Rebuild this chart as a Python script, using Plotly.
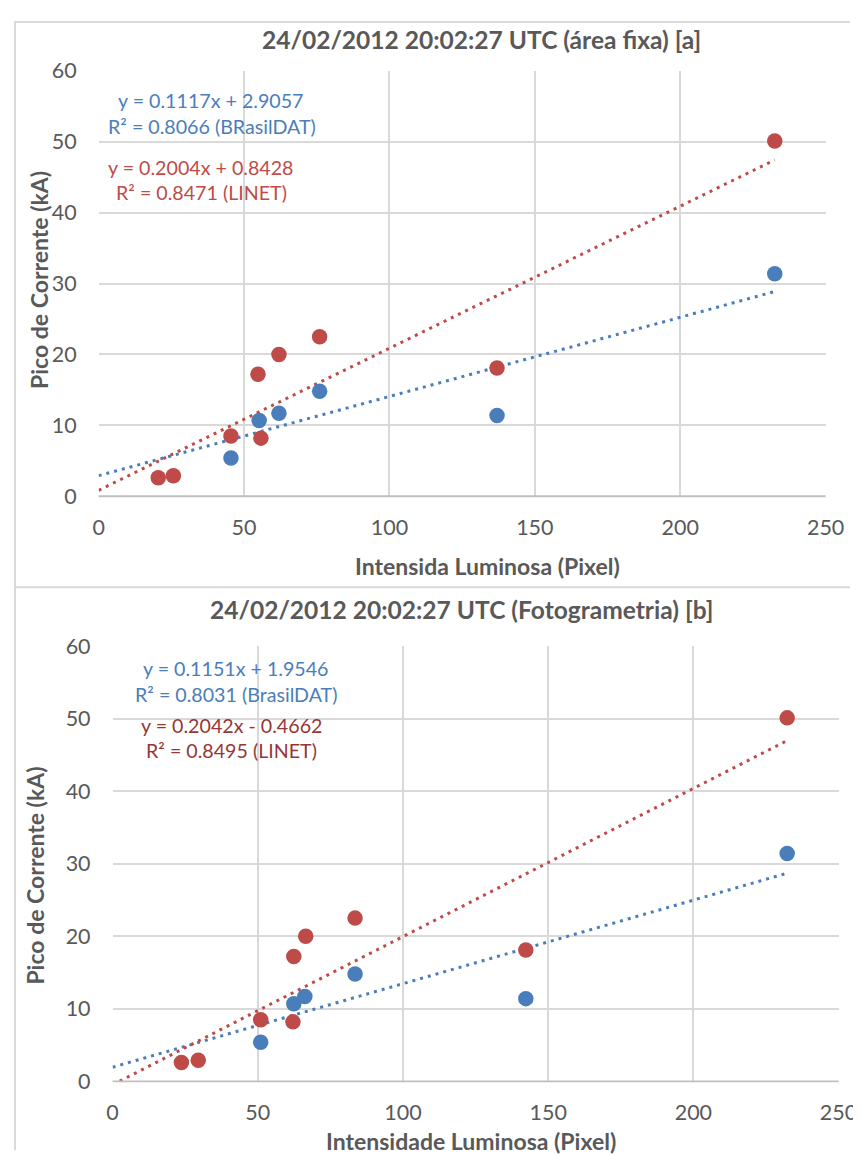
import plotly.graph_objects as go

W, H = 861, 1155

# ---------------- data ----------------
# Panel [a] - área fixa
a_x_brasildat = [45.5, 55.2, 62.0, 76.0, 137.0, 232.5]
a_y_brasildat = [5.4, 10.7, 11.7, 14.8, 11.4, 31.4]
a_x_linet = [20.5, 25.7, 45.5, 54.8, 55.8, 62.0, 76.0, 137.0, 232.5]
a_y_linet = [2.6, 2.9, 8.5, 17.2, 8.2, 20.0, 22.5, 18.1, 50.1]
a_fit_brasildat = (0.1117, 2.9057)
a_fit_linet = (0.2004, 0.8428)

# Panel [b] - fotogrametria
b_x_brasildat = [51.0, 62.4, 66.2, 83.5, 142.3, 232.3]
b_y_brasildat = [5.4, 10.7, 11.7, 14.8, 11.4, 31.4]
b_x_linet = [23.7, 29.5, 51.0, 62.4, 62.1, 66.5, 83.5, 142.3, 232.3]
b_y_linet = [2.6, 2.9, 8.5, 17.2, 8.2, 20.0, 22.5, 18.1, 50.1]
b_fit_brasildat = (0.1151, 1.9546)
b_fit_linet = (0.2042, -0.4662)

x_ticks = [0, 50, 100, 150, 200, 250]
y_ticks = [0, 10, 20, 30, 40, 50, 60]

title_a = "24/02/2012 20:02:27 UTC (área fixa) [a]"
title_b = "24/02/2012 20:02:27 UTC (Fotogrametria) [b]"
xtitle_a = "Intensida Luminosa (Pixel)"
xtitle_b = "Intensidade Luminosa (Pixel)"
ytitle = "Pico de Corrente (kA)"
eq_a = ["y = 0.1117x + 2.9057", "R² = 0.8066 (BRasilDAT)",
        "y = 0.2004x + 0.8428", "R² = 0.8471 (LINET)"]
eq_b = ["y = 0.1151x + 1.9546", "R² = 0.8031 (BrasilDAT)",
        "y = 0.2042x - 0.4662", "R² = 0.8495 (LINET)"]

# ---------------- style ----------------
BLUE = "#4A7EBB"
RED = "#BE4B48"
DARKRED = "#953735"
GRID = "#D9D9D9"
TXT = "#595959"
FONT = "Lato"

# the photographed page places the figure slightly offset / scaled;
# positions below are given in reference-image pixels and converted.
OX, SX, OY, SY = 12.0, 0.975, 21.0, 0.979
K = 1 / ((SX + SY) / 2)


def px(x):
    return min(max((x - OX) / SX / W, 0.0), 1.0)


def py(y):
    return min(max(1 - (y - OY) / SY / H, 0.0), 1.0)


fig = go.Figure()


def add_panel(xs_b, ys_b, xs_l, ys_l, fit_b, fit_l, xa, ya):
    xref = "x" if xa == 1 else "x%d" % xa
    yref = "y" if ya == 1 else "y%d" % ya
    for (xs, ys, fit, col) in [(xs_b, ys_b, fit_b, BLUE), (xs_l, ys_l, fit_l, RED)]:
        xmax = max(xs)
        fx = [0, xmax]
        fy = [fit[0] * v + fit[1] for v in fx]
        fig.add_trace(go.Scatter(x=fx, y=fy, mode="lines", xaxis=xref, yaxis=yref,
                                 line=dict(color=col, width=3, dash="3px,5px"),
                                 showlegend=False, hoverinfo="skip"))
    for (xs, ys, col) in [(xs_b, ys_b, BLUE), (xs_l, ys_l, RED)]:
        fig.add_trace(go.Scatter(x=xs, y=ys, mode="markers", xaxis=xref, yaxis=yref,
                                 marker=dict(color=col, size=15.5, line=dict(width=0)),
                                 showlegend=False))


add_panel(a_x_brasildat, a_y_brasildat, a_x_linet, a_y_linet, a_fit_brasildat, a_fit_linet, 1, 1)
add_panel(b_x_brasildat, b_y_brasildat, b_x_linet, b_y_linet, b_fit_brasildat, b_fit_linet, 2, 2)

axis_common = dict(showgrid=True, gridcolor=GRID, gridwidth=1.8, zeroline=False,
                   showline=False, ticks="", tickfont=dict(family=FONT, size=21.5, color=TXT))

fig.update_layout(
    width=W, height=H, margin=dict(l=0, r=0, t=0, b=0),
    paper_bgcolor="white", plot_bgcolor="white",
    xaxis=dict(domain=[px(97), px(827)], range=[0, 250], tickvals=x_ticks, anchor="y",
               ticklabelstandoff=16, **axis_common),
    yaxis=dict(domain=[py(497), py(71)], range=[0, 60], tickvals=y_ticks, anchor="x",
               ticklabelstandoff=21, **axis_common),
    xaxis2=dict(domain=[px(111), px(840)], range=[0, 250], tickvals=x_ticks, anchor="y2",
                ticklabelstandoff=16, **axis_common),
    yaxis2=dict(domain=[py(1083), py(647)], range=[0, 60], tickvals=y_ticks, anchor="x2",
                ticklabelstandoff=21, **axis_common),
)

FR = 1.0 / W  # keep frame lines just inside the page edge
shapes = [
    # panel frames
    dict(type="line", xref="paper", yref="paper", x0=FR, x1=FR, y0=0, y1=1,
         line=dict(color=GRID, width=2)),
    dict(type="line", xref="paper", yref="paper", x0=0, x1=1, y0=py(588), y1=py(588),
         line=dict(color=GRID, width=2)),
    dict(type="line", xref="paper", yref="paper", x0=0, x1=1, y0=1 - 1.0 / H, y1=1 - 1.0 / H,
         line=dict(color=GRID, width=2)),
    # x axis baselines
    dict(type="line", xref="paper", yref="paper", x0=px(97), x1=px(827), y0=py(497), y1=py(497),
         line=dict(color="#BFBFBF", width=1.8)),
    dict(type="line", xref="paper", yref="paper", x0=px(111), x1=px(840), y0=py(1083), y1=py(1083),
         line=dict(color="#BFBFBF", width=1.8)),
]
fig.update_layout(shapes=shapes)

ann = []


def text(x, y, s, size, color, bold=False, angle=0):
    ann.append(dict(xref="paper", yref="paper", x=px(x), y=py(y), text=("<b>%s</b>" % s) if bold else s,
                    showarrow=False, xanchor="center", yanchor="middle", textangle=angle,
                    font=dict(family=FONT, size=size * K, color=color)))


text(481.5, 40, title_a, 24, TXT, bold=True)
text(461, 610, title_b, 24, TXT, bold=True)
text(487, 567, xtitle_a, 22.5, TXT, bold=True)
text(471, 1143, xtitle_b, 22.5, TXT, bold=True)
text(36.5, 280, ytitle, 22.5, TXT, bold=True, angle=-90)
text(33, 877, ytitle, 22.5, TXT, bold=True, angle=-90)

text(210, 101, eq_a[0], 19.2, BLUE)
text(210.5, 127, eq_a[1], 19.2, BLUE)
text(200, 168, eq_a[2], 19.2, RED)
text(200, 193, eq_a[3], 19.2, RED)

text(234.5, 670, eq_b[0], 19.2, BLUE)
text(234.7, 696, eq_b[1], 19.2, BLUE)
text(230, 727, eq_b[2], 19.2, DARKRED)
text(230, 752, eq_b[3], 19.2, DARKRED)

fig.update_layout(annotations=ann)

fig.write_html("out.html")
